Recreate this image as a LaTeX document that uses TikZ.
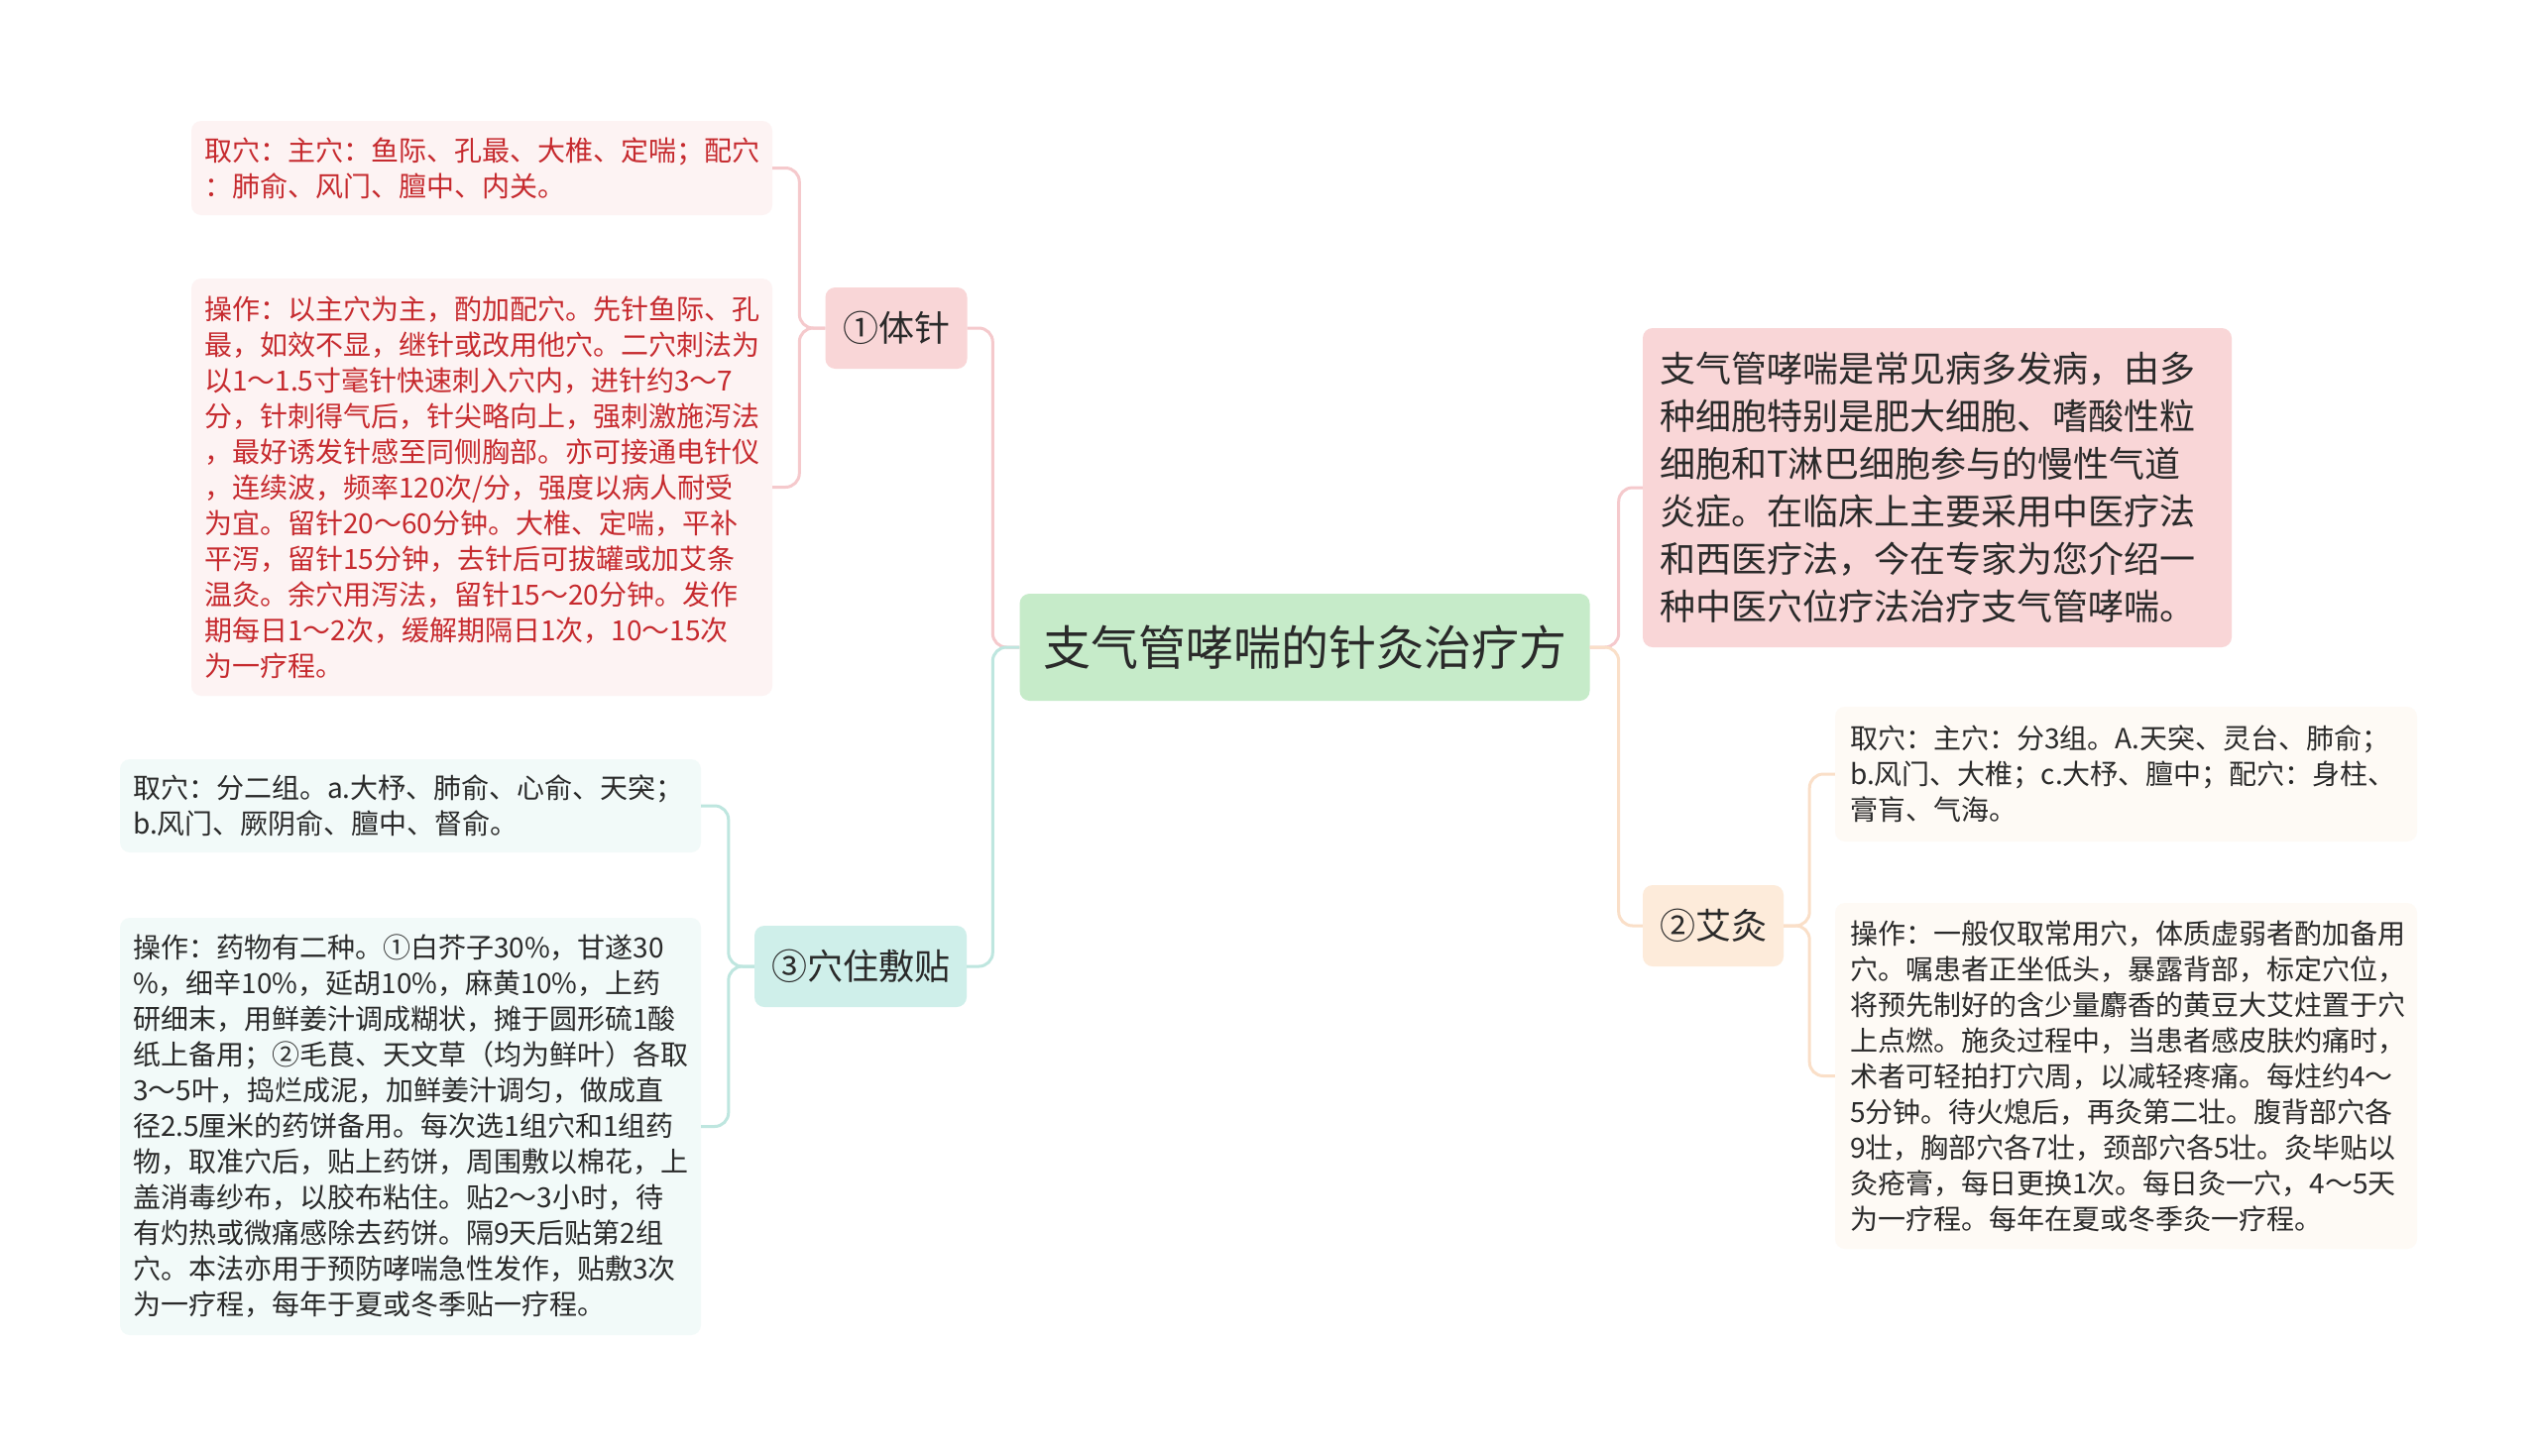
\documentclass[tikz,border=0pt]{standalone}
\usepackage{fontspec}
\setmainfont{Noto Sans CJK SC}
\definecolor{cgreen}{HTML}{C6EBC9}
\definecolor{cpink}{HTML}{F9D6D7}
\definecolor{cteal}{HTML}{CFEFEA}
\definecolor{cpeach}{HTML}{FDEBDA}
\definecolor{lpink}{HTML}{FDF3F3}
\definecolor{lteal}{HTML}{F2FAF9}
\definecolor{lpeach}{HTML}{FEFAF5}
\definecolor{linepink}{HTML}{F5C9CC}
\definecolor{lineteal}{HTML}{BEE6DF}
\definecolor{linepeach}{HTML}{FADFC8}
\definecolor{redtext}{HTML}{C62A2E}
\definecolor{darktext}{HTML}{2A2A2A}
\begin{document}
\begin{tikzpicture}[x=1pt,y=-1pt,
  every node/.style={inner sep=0pt},
  rootbox/.style={fill=cgreen, rounded corners=10pt, minimum width=575pt, minimum height=108pt, text=darktext, font=\fontsize{48}{58}\selectfont},
  branchbox/.style={rounded corners=10pt, minimum height=82pt, text=darktext, font=\fontsize{36}{44}\selectfont},
  leafbox/.style={rounded corners=10pt, align=left, inner xsep=13pt, text width=560pt, font=\fontsize{28}{36}\selectfont},
  conn/.style={line width=3pt, rounded corners=14pt}
]
\useasboundingbox (0,0) rectangle (2560,1468);
\fill[white] (0,0) rectangle (2560,1468);

% root
\node[rootbox] (root) at (1316,653) {支气管哮喘的针灸治疗方};

% branches
\node[branchbox, fill=cpink, minimum width=143pt] (b1) at (904,331) {①体针};
\node[branchbox, fill=cteal, minimum width=214pt] (b3) at (868,975) {③穴住敷贴};
\node[branchbox, fill=cpeach, minimum width=142pt] (b2) at (1728,934) {②艾灸};

% intro
\node[rounded corners=10pt, fill=cpink, align=left, inner xsep=17pt, text width=560pt, minimum height=322pt, text=darktext, font=\fontsize{36}{48}\selectfont] (intro) at (1954,492) {支气管哮喘是常见病多发病，由多\\
种细胞特别是肥大细胞、嗜酸性粒\\
细胞和T淋巴细胞参与的慢性气道\\
炎症。在临床上主要采用中医疗法\\
和西医疗法，今在专家为您介绍一\\
种中医穴位疗法治疗支气管哮喘。};

% 体针 leaves
\node[leafbox, fill=lpink, text=redtext, minimum height=95pt] (t1) at (486,169.5) {取穴：主穴：鱼际、孔最、大椎、定喘；配穴\\
：肺俞、风门、膻中、内关。};
\node[leafbox, fill=lpink, text=redtext, minimum height=421pt] (t2) at (486,491.5) {操作：以主穴为主，酌加配穴。先针鱼际、孔\\
最，如效不显，继针或改用他穴。二穴刺法为\\
以1～1.5寸毫针快速刺入穴内，进针约3～7\\
分，针刺得气后，针尖略向上，强刺激施泻法\\
，最好诱发针感至同侧胸部。亦可接通电针仪\\
，连续波，频率120次/分，强度以病人耐受\\
为宜。留针20～60分钟。大椎、定喘，平补\\
平泻，留针15分钟，去针后可拔罐或加艾条\\
温灸。余穴用泻法，留针15～20分钟。发作\\
期每日1～2次，缓解期隔日1次，10～15次\\
为一疗程。};

% 穴住敷贴 leaves
\node[leafbox, fill=lteal, text=darktext, minimum height=94pt] (x1) at (414,813) {取穴：分二组。a.大杼、肺俞、心俞、天突；\\
b.风门、厥阴俞、膻中、督俞。};
\node[leafbox, fill=lteal, text=darktext, minimum height=421pt] (x2) at (414,1136.5) {操作：药物有二种。①白芥子30\%，甘遂30\\
\%，细辛10\%，延胡10\%，麻黄10\%，上药\\
研细末，用鲜姜汁调成糊状，摊于圆形硫1酸\\
纸上备用；②毛茛、天文草（均为鲜叶）各取\\
3～5叶，捣烂成泥，加鲜姜汁调匀，做成直\\
径2.5厘米的药饼备用。每次选1组穴和1组药\\
物，取准穴后，贴上药饼，周围敷以棉花，上\\
盖消毒纱布，以胶布粘住。贴2～3小时，待\\
有灼热或微痛感除去药饼。隔9天后贴第2组\\
穴。本法亦用于预防哮喘急性发作，贴敷3次\\
为一疗程，每年于夏或冬季贴一疗程。};

% 艾灸 leaves
\node[leafbox, fill=lpeach, text=darktext, inner xsep=15pt, text width=557pt, minimum height=136pt] (a1) at (2144.5,781) {取穴：主穴：分3组。A.天突、灵台、肺俞；\\
b.风门、大椎；c.大杼、膻中；配穴：身柱、\\
膏肓、气海。};
\node[leafbox, fill=lpeach, text=darktext, inner xsep=15pt, text width=557pt, minimum height=349pt] (a2) at (2144.5,1085.5) {操作：一般仅取常用穴，体质虚弱者酌加备用\\
穴。嘱患者正坐低头，暴露背部，标定穴位，\\
将预先制好的含少量麝香的黄豆大艾炷置于穴\\
上点燃。施灸过程中，当患者感皮肤灼痛时，\\
术者可轻拍打穴周，以减轻疼痛。每炷约4～\\
5分钟。待火熄后，再灸第二壮。腹背部穴各\\
9壮，胸部穴各7壮，颈部穴各5壮。灸毕贴以\\
灸疮膏，每日更换1次。每日灸一穴，4～5天\\
为一疗程。每年在夏或冬季灸一疗程。};

% connectors
\begin{scope}[on background layer/.style={}]
\draw[conn, linepink] (root.west) -- ++(-27,0) |- (b1.east);
\draw[conn, lineteal] (root.west) -- ++(-27,0) |- (b3.east);
\draw[conn, linepink] (root.east) -- ++(29,0) |- (intro.west);
\draw[conn, linepeach] (root.east) -- ++(29,0) |- (b2.west);
\draw[conn, linepink] (b1.west) -- ++(-26,0) |- (t1.east);
\draw[conn, linepink] (b1.west) -- ++(-26,0) |- (t2.east);
\draw[conn, lineteal] (b3.west) -- ++(-26,0) |- (x1.east);
\draw[conn, lineteal] (b3.west) -- ++(-26,0) |- (x2.east);
\draw[conn, linepeach] (b2.east) -- ++(26,0) |- (a1.west);
\draw[conn, linepeach] (b2.east) -- ++(26,0) |- (a2.west);
\end{scope}
\end{tikzpicture}
\end{document}
